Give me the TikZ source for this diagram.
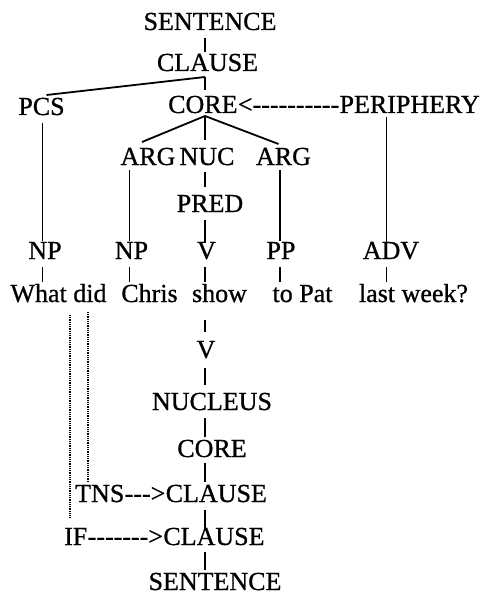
\documentclass[tikz,border=0pt]{standalone}
\usepackage{fontspec}
\newfontfamily\tm{Liberation Serif}[FakeBold=0.8]
\usetikzlibrary{calc}
\newcommand\vlink[5]{\draw[edge] ($(#2.base -| #1)+(0,#3)$) -- ($(#4.base -| #1)+(0,#5)$);}
\begin{document}
\begin{tikzpicture}[x=1pt,y=1pt,
  lbl/.style={font=\tm\fontsize{26}{30}\selectfont, inner sep=0pt, anchor=base},
  lblw/.style={lbl, anchor=base west},
  edge/.style={line width=1.8pt},
  trace/.style={line width=1.3pt, dash pattern=on 0.9pt off 0.9pt}]
\useasboundingbox[fill=white] (0,0) rectangle (484,-596);
% column x positions for the connectors
\coordinate (xsp) at (205,0);
\coordinate (xa) at (42.5,0);
\coordinate (xb) at (129.5,0);
\coordinate (xc) at (280,0);
\coordinate (xd) at (386.5,0);
\coordinate (xe) at (70,0);
\coordinate (xf) at (88,0);
% nodes
\node[lbl] (s1) at (210,-30) {SENTENCE};
\node[lbl] (c1) at (207.5,-71) {CLAUSE};
\node[lbl] (pcs) at (41.5,-115) {PCS};
\node[lblw] (core) at (168,-113) {CORE};
\node[lblw] (arr1) at (core.base east) {<----------};
\node[lblw] (per) at (arr1.base east) {PERIPHERY};
\node[lbl] (arg1) at (148,-165) {ARG};
\node[lbl] (nuc) at (207,-165) {NUC};
\node[lbl] (arg2) at (283.5,-165) {ARG};
\node[lbl] (pred) at (210,-212) {PRED};
\node[lbl] (np1) at (45,-259) {NP};
\node[lbl] (np2) at (131.5,-259) {NP};
\node[lbl] (v1) at (206.5,-259) {V};
\node[lbl] (pp) at (281,-259) {PP};
\node[lbl] (adv) at (391,-259) {ADV};
\node[lbl] (w1) at (58.5,-302) {What did};
\node[lbl] (w2) at (149.5,-302) {Chris};
\node[lbl] (w3) at (219.5,-302) {show};
\node[lbl] (w4) at (302.5,-302) {to Pat};
\node[lbl] (w5) at (413.5,-302) {last week?};
\node[lbl] (v2) at (206,-358) {V};
\node[lbl] (nucl) at (212,-410) {NUCLEUS};
\node[lbl] (core2) at (212,-457) {CORE};
\node[lblw] (tns) at (75,-502) {TNS};
\node[lblw] (arr2) at (tns.base east) {--->};
\node[lblw] (cl3) at (arr2.base east) {CLAUSE};
\node[lblw] (iff) at (64,-545) {IF};
\node[lblw] (arr3) at (iff.base east) {------->};
\node[lblw] (cl4) at (arr3.base east) {CLAUSE};
\node[lbl] (s2) at (215,-590) {SENTENCE};
% spine
\vlink{xsp}{s1}{-8}{c1}{19}
\vlink{xsp}{c1}{-6}{core}{23}
\vlink{xsp}{core}{-3}{nuc}{25}
\vlink{xsp}{nuc}{-7}{pred}{25}
\vlink{xsp}{pred}{-8}{v1}{16}
\vlink{xsp}{v1}{-8}{w3}{20}
\vlink{xsp}{w3}{-18}{v2}{26}
\vlink{xsp}{v2}{-10}{nucl}{25}
\vlink{xsp}{nucl}{-8}{core2}{20}
\vlink{xsp}{core2}{-6}{cl3}{20}
\vlink{xsp}{cl3}{-8}{cl4}{15}
\vlink{xsp}{cl4}{-7}{s2}{20}
% diagonals
\draw[edge] ($(c1.base -| xsp)+(0,-6)$) -- ($(pcs.base)+(5,20)$);
\draw[edge] ($(core.base -| xsp)+(0,-3)$) -- ($(arg1.base)+(-6,23)$);
\draw[edge] ($(core.base -| xsp)+(0,-3)$) -- ($(arg2.base)+(-5,21)$);
% columns
\vlink{xa}{pcs}{-8}{np1}{18}
\vlink{xb}{arg1}{-5}{np2}{18}
\vlink{xc}{arg2}{-5}{pp}{18}
\vlink{xd}{per}{-4}{adv}{2}
\vlink{xa}{np1}{-8}{w1}{20}
\vlink{xb}{np2}{-8}{w2}{20}
\vlink{xc}{pp}{-8}{w4}{20}
\vlink{xd}{adv}{-8}{w5}{20}
% dotted traces
\draw[trace] ($(w1.base -| xe)+(0,-13)$) -- ($(iff.base -| xe)+(0,27)$);
\draw[trace] ($(w1.base -| xf)+(0,-10)$) -- ($(tns.base -| xf)+(0,20)$);
\end{tikzpicture}
\end{document}
